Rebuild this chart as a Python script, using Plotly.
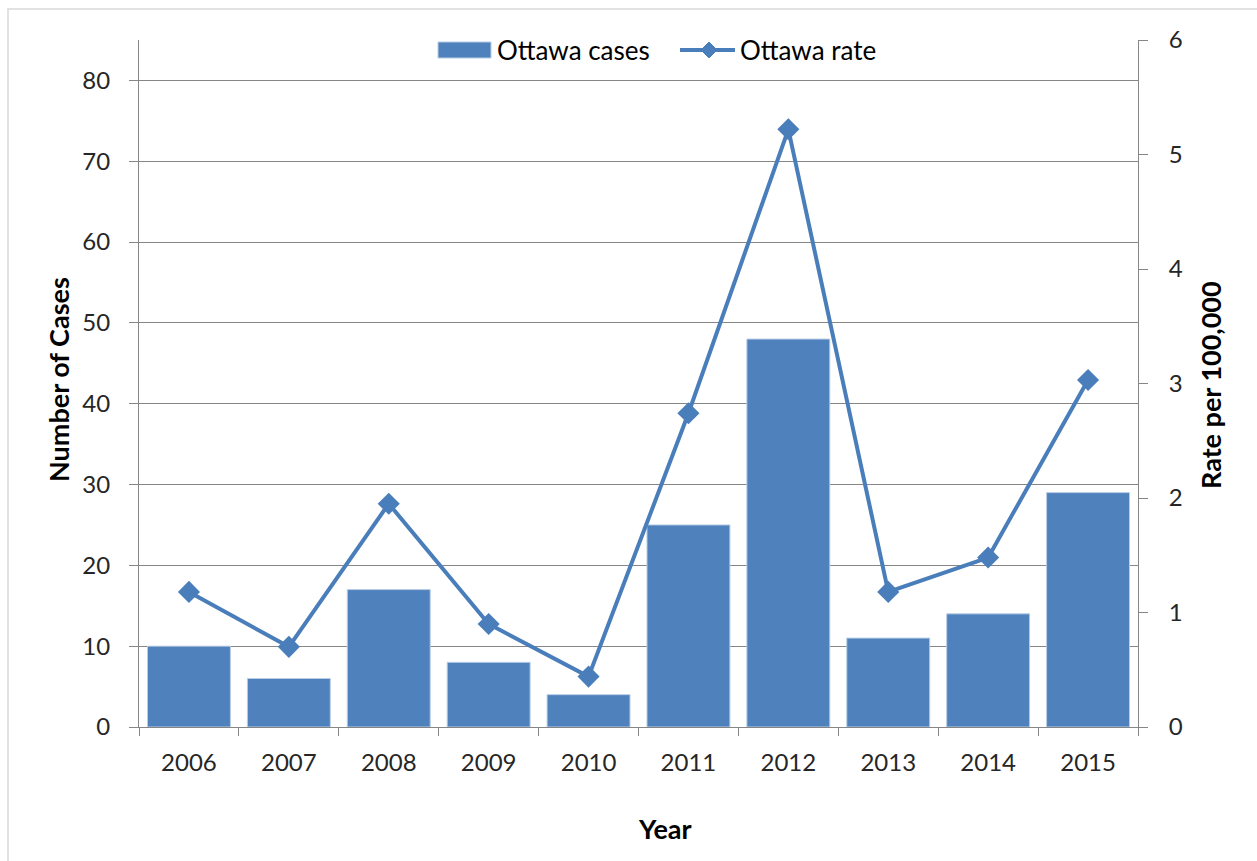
import plotly.graph_objects as go

# Annual Ottawa cases and rate per 100,000
years = ["2006", "2007", "2008", "2009", "2010", "2011", "2012", "2013", "2014", "2015"]
cases = [10, 6, 17, 8, 4, 25, 48, 11, 14, 29]
rates = [1.18, 0.70, 1.95, 0.90, 0.44, 2.74, 5.22, 1.18, 1.48, 3.03]

left_ticks = [0, 10, 20, 30, 40, 50, 60, 70, 80]
right_ticks = [0, 1, 2, 3, 4, 5, 6]

BLUE = "#4F81BD"
LINE_BLUE = "#4A7EBB"
AXIS_GREY = "#868686"
FONT = "Lato, 'Open Sans', sans-serif"
TICK_FONT = dict(size=24, color="#262626")

# Plot area in pixels (used to place titles and legend in paper coordinates)
PL, PR, PT, PB = 139, 1138, 40, 727


def px(x):
    return (x - PL) / (PR - PL)


def py(y):
    return (PB - y) / (PB - PT)


fig = go.Figure()

fig.add_trace(go.Bar(
    x=years, y=cases, name="Ottawa cases",
    marker=dict(color=BLUE, line=dict(color="#B9CDE5", width=1)),
    yaxis="y", showlegend=False,
))

fig.add_trace(go.Scatter(
    x=years, y=rates, name="Ottawa rate", mode="lines+markers",
    line=dict(color=LINE_BLUE, width=4),
    marker=dict(symbol="diamond", size=17, color=LINE_BLUE),
    yaxis="y2", showlegend=False,
))

# Legend drawn at the top of the plot area
legend_y = 50
dm = 8  # diamond half-size in px
shapes = [
    # outer chart frame
    dict(type="rect", xref="paper", yref="paper",
         x0=px(8), x1=px(1300), y0=py(900), y1=py(9),
         line=dict(color="#D9D9D9", width=1.5), fillcolor="rgba(0,0,0,0)",
         layer="below"),
    # bar swatch
    dict(type="rect", xref="paper", yref="paper",
         x0=px(438), x1=px(491), y0=py(58), y1=py(42),
         line=dict(color="#B9CDE5", width=1), fillcolor=BLUE),
    # line swatch
    dict(type="line", xref="paper", yref="paper",
         x0=px(680), x1=px(735), y0=py(legend_y), y1=py(legend_y),
         line=dict(color=LINE_BLUE, width=4)),
    # diamond on line swatch
    dict(type="path", xref="paper", yref="paper",
         path=(f"M {px(709 - dm)},{py(legend_y)} L {px(709)},{py(legend_y - dm)} "
               f"L {px(709 + dm)},{py(legend_y)} L {px(709)},{py(legend_y + dm)} Z"),
         line=dict(color=LINE_BLUE, width=1), fillcolor=LINE_BLUE),
]

annotations = [
    dict(text="Ottawa cases", x=px(495), y=py(legend_y), xanchor="left", yanchor="middle",
         font=dict(size=26, color="#000000")),
    dict(text="Ottawa rate", x=px(738), y=py(legend_y), xanchor="left", yanchor="middle",
         font=dict(size=26, color="#000000")),
    dict(text="<b>Number of Cases</b>", x=px(58), y=py(380), textangle=-90,
         xanchor="center", yanchor="middle", font=dict(size=27, color="#000000")),
    dict(text="<b>Rate per 100,000</b>", x=px(1211), y=py(385), textangle=-90,
         xanchor="center", yanchor="middle", font=dict(size=27, color="#000000")),
    dict(text="<b>Year</b>", x=px(665), y=py(828),
         xanchor="center", yanchor="middle", font=dict(size=27, color="#000000")),
]
for a in annotations:
    a.update(xref="paper", yref="paper", showarrow=False)

fig.update_layout(
    width=1257, height=861,
    margin=dict(l=PL, r=1257 - PR, t=PT, b=861 - PB),
    paper_bgcolor="white", plot_bgcolor="white",
    font=dict(family=FONT, size=24, color="#262626"),
    bargap=0.17,
    showlegend=False,
    xaxis=dict(
        type="category", range=[-0.5, 9.5], showgrid=False,
        showline=True, linecolor=AXIS_GREY, linewidth=1,
        ticks="outside", tickson="boundaries", ticklen=8, tickcolor=AXIS_GREY,
        tickfont=TICK_FONT, ticklabelstandoff=14,
    ),
    yaxis=dict(
        range=[0, 85], tickvals=left_ticks,
        showgrid=True, gridcolor=AXIS_GREY, gridwidth=1,
        showline=True, linecolor=AXIS_GREY, linewidth=1,
        ticks="outside", ticklen=9, tickcolor=AXIS_GREY,
        tickfont=TICK_FONT, ticklabelstandoff=14,
        zeroline=False,
    ),
    yaxis2=dict(
        range=[0, 6], tickvals=right_ticks, overlaying="y", side="right",
        showgrid=False,
        showline=True, linecolor=AXIS_GREY, linewidth=1,
        ticks="outside", ticklen=9, tickcolor=AXIS_GREY,
        tickfont=TICK_FONT, ticklabelstandoff=16,
        zeroline=False,
    ),
    shapes=shapes,
    annotations=annotations,
)

fig.write_html("out.html")
